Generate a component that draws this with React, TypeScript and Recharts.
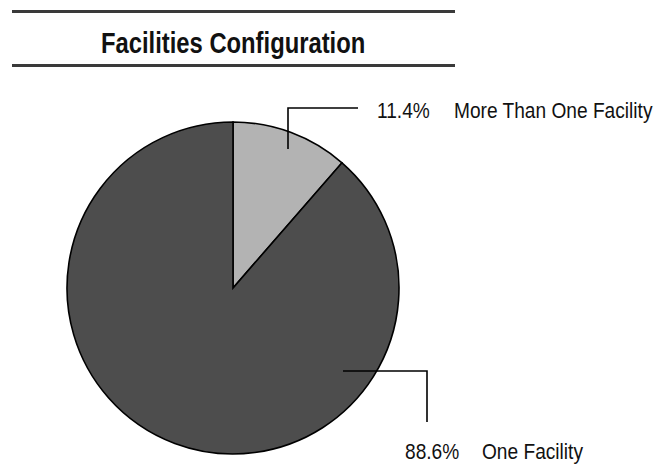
import React from "react";
import { PieChart, Pie, Cell } from "recharts";

const categories = ["More Than One Facility", "One Facility"];
const shares = [11.4, 88.6];
const sliceColors = ["#b3b3b3", "#4d4d4d"];
const titleText = "Facilities Configuration";

const data = categories.map((name, i) => ({ name, value: shares[i] }));

const FONT = '"Liberation Sans", Arial, sans-serif';
const NARROW = 0.82;
const LABEL_NARROW = 0.87;

// leader geometry relative to pie centre, per slice
const leaders = [
  { pts: [[55, -139], [55, -180], [125, -180]], tx: 144, ty: -178 },
  { pts: [[110, 83], [194, 83], [194, 134]], tx: 172, ty: 163 },
];

const renderLabel = (props: any) => {
  const { cx, cy, index, value, name } = props;
  const L = leaders[index];
  const d = L.pts.map((p, i) => `${i ? "L" : "M"}${cx + p[0]},${cy + p[1]}`).join(" ");
  return (
    <g key={`lbl-${index}`}>
      <path d={d} fill="none" stroke="#000" strokeWidth={1.6} />
      <g transform={`translate(${cx + L.tx},${cy + L.ty}) scale(${LABEL_NARROW},1)`}>
        <text x={0} y={0} dominantBaseline="central" fontFamily={FONT} fontSize={22} fill="#111">
          {`${Number(value).toFixed(1)}%`}
        </text>
        <text x={77 / LABEL_NARROW} y={0} dominantBaseline="central" fontFamily={FONT} fontSize={22} fill="#111">
          {name}
        </text>
      </g>
    </g>
  );
};

export default function App() {
  return (
    <div style={{ position: "absolute", left: 0, top: 0, width: 660, height: 464, background: "#fff" }}>
      <div style={{ position: "absolute", left: 12, top: 10, width: 443, height: 3, background: "#3a3a3a" }} />
      <div
        style={{
          position: "absolute",
          left: 12,
          top: 18,
          width: 443,
          height: 51,
          display: "flex",
          alignItems: "center",
          justifyContent: "center",
        }}
      >
        <span
          style={{
            display: "inline-block",
            transform: `scaleX(${NARROW})`,
            fontFamily: FONT,
            fontWeight: "bold",
            fontSize: 29,
            color: "#111",
            whiteSpace: "nowrap",
          }}
        >
          {titleText}
        </span>
      </div>
      <div style={{ position: "absolute", left: 12, top: 64, width: 443, height: 3, background: "#3a3a3a" }} />
      <div style={{ position: "absolute", left: 0, top: 0 }}>
        <PieChart width={660} height={464} margin={{ top: 0, right: 0, bottom: 0, left: 0 }}>
          <Pie
            data={data}
            dataKey="value"
            nameKey="name"
            cx={233}
            cy={288}
            outerRadius={166}
            startAngle={90}
            endAngle={-270}
            stroke="#000"
            strokeWidth={1.6}
            label={renderLabel}
            labelLine={false}
            isAnimationActive={false}
          >
            {data.map((d, i) => (
              <Cell key={d.name} fill={sliceColors[i]} />
            ))}
          </Pie>
        </PieChart>
      </div>
    </div>
  );
}
